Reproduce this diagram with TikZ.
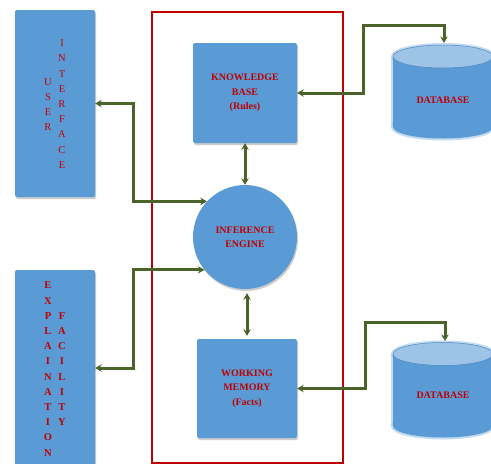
\documentclass[tikz,border=0pt]{standalone}
\usepackage{fontspec}
\setmainfont{Liberation Serif}
\usetikzlibrary{arrows.meta,shadows}
\definecolor{boxblue}{HTML}{5B9BD5}
\definecolor{lightblue}{HTML}{9DC3E6}
\definecolor{edgeblue}{HTML}{4A86C0}
\definecolor{txtred}{HTML}{C00000}
\definecolor{framered}{HTML}{C00000}
\definecolor{conngreen}{HTML}{4A6328}
\newcommand\dbcyl[3]{%
  \draw[lightblue, line width=4pt, opacity=.6] (#1-50,#2) -- (#1-50,#3) (#1+50,#2) -- (#1+50,#3);
  \draw[lightblue, line width=4pt, opacity=.6] (#1,#2) ellipse [x radius=50, y radius=11.5];
  \draw[lightblue, line width=4pt, opacity=.6] (#1,#3) ellipse [x radius=50, y radius=11.5];
  \fill[boxblue] (#1-50,#2) rectangle (#1+50,#3);
  \fill[boxblue] (#1,#3) ellipse [x radius=50, y radius=11.5];
  \filldraw[fill=lightblue, draw=edgeblue, line width=0.5pt] (#1,#2) ellipse [x radius=50, y radius=11.5];
}
\begin{document}
\begin{tikzpicture}[x=1pt,y=-1pt,
  blk/.style={fill=boxblue, rounded corners=2pt, inner sep=0pt,
    drop shadow={opacity=0.4, shadow xshift=1pt, shadow yshift=-2pt}},
  lbl/.style={text=txtred, font=\bfseries\fontsize{10}{14.5}\selectfont, align=center},
  colreg/.style={text=txtred, font=\fontsize{10.5}{15.2}\selectfont, align=center, inner sep=0pt},
  colbold/.style={text=txtred, font=\bfseries\fontsize{10.5}{15.2}\selectfont, align=center, inner sep=0pt},
  link/.style={draw=conngreen, line width=3pt,
    {Stealth[length=6.5pt,width=7.5pt]}-{Stealth[length=6.5pt,width=7.5pt]}}]
\useasboundingbox (0,0) rectangle (491,464);
\fill[white] (0,0) rectangle (491,464);

% frame
\draw[framered, line width=2pt] (152,12) rectangle (343,463);

% blocks
\node[blk, minimum width=80pt, minimum height=187pt] (ui) at (55,103.5) {};
\node[colreg] (uiA) at (48,104.5) {U\\S\\E\\R};
\node[colreg] (uiB) at (62,104) {I\\N\\T\\E\\R\\F\\A\\C\\E};

\node[blk, minimum width=80pt, minimum height=196pt] (ex) at (55,368) {};
\node[colbold] (exA) at (48,369) {E\\X\\P\\L\\A\\I\\N\\A\\T\\I\\O\\N};
\node[colbold] (exB) at (62,369) {F\\A\\C\\I\\L\\I\\T\\Y};

\node[blk, lbl, minimum width=104pt, minimum height=100pt] (kb) at (245,93) {KNOWLEDGE\\BASE\\(Rules)};
\node[blk, lbl, circle, minimum size=104pt] (ie) at (245,237) {INFERENCE\\ENGINE};
\node[blk, lbl, minimum width=100pt, minimum height=99pt] (wm) at (247,388.5) {WORKING\\MEMORY\\(Facts)};

% databases
\dbcyl{443}{56.5}{127}
\node[lbl] (db1) at (443,100) {DATABASE};
\coordinate (db1top) at (444,43);
\dbcyl{443}{354}{426}
\node[lbl] (db2) at (443,395) {DATABASE};
\coordinate (db2top) at (445,341);

% connectors
\coordinate (j1) at (133,0);
\draw[link] (ie.137.7) -- (ie.137.7 -| j1) |- (ui.east);
\draw[link] (ie.219) -- (ie.219 -| j1) |- (ex.east);
\draw[link] (kb.south) -- (ie.north);
\draw[link, shorten <=4pt, shorten >=3pt] (ie.south -| wm.north) -- (wm.north);
\coordinate (k1) at (363,25);
\draw[link] (kb.east) -| (k1) -| (db1top);
\coordinate (k2) at (365,322);
\draw[link] (wm.east) -| (k2) -| (db2top);
\end{tikzpicture}
\end{document}
